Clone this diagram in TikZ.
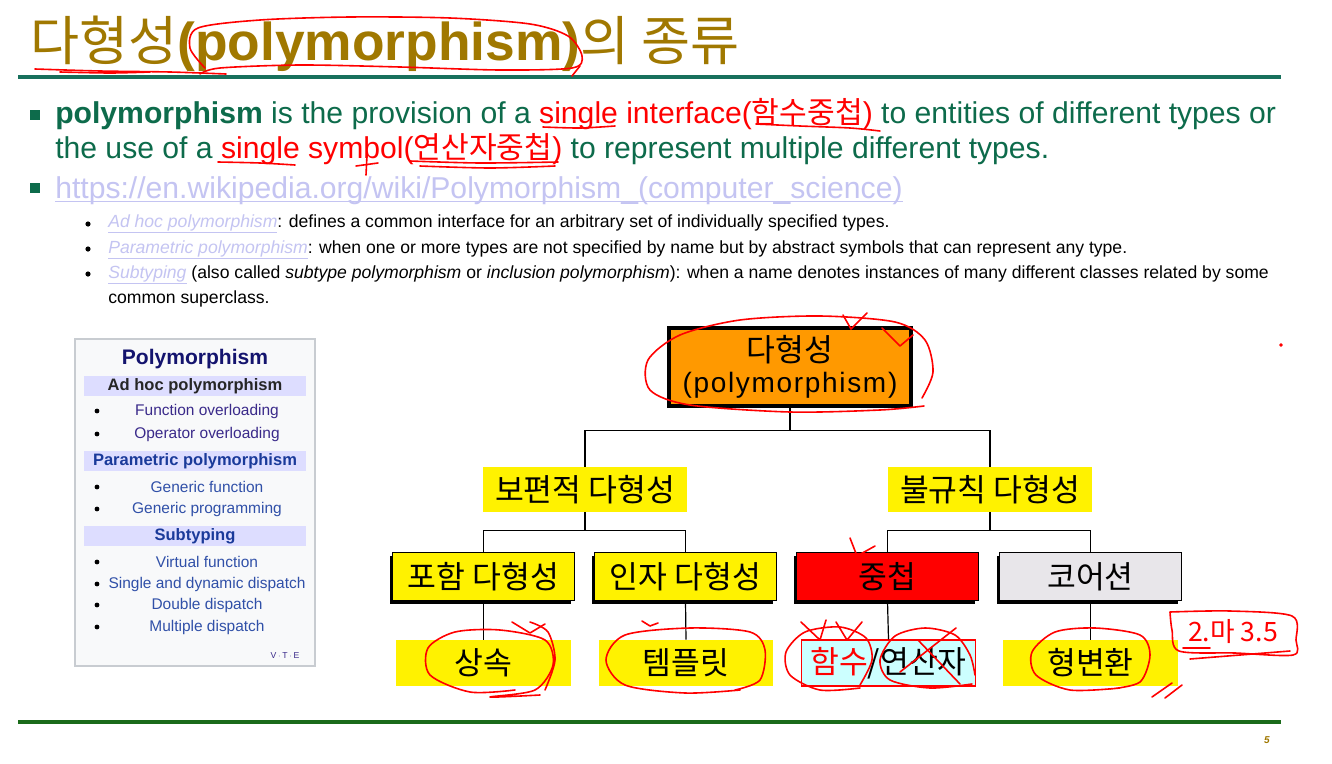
\documentclass[tikz,border=0pt]{standalone}
\usepackage{fontspec}
\setmainfont{Liberation Sans}
\newfontfamily\kr{Noto Sans CJK KR}
\usetikzlibrary{shadows}
\definecolor{titlecol}{HTML}{A07800}
\definecolor{txtgreen}{HTML}{0D6B4B}
\definecolor{linkcol}{HTML}{C4C4F2}
\definecolor{topline}{HTML}{17705C}
\definecolor{botline}{HTML}{1A6B1A}
\definecolor{boxborder}{HTML}{C8CCD1}
\definecolor{boxfill}{HTML}{F8F9FA}
\definecolor{hdrcol}{HTML}{DDDDFF}
\definecolor{navy}{HTML}{14146E}
\definecolor{itemblue}{HTML}{3050A8}
\definecolor{itempurple}{HTML}{3A2A8A}
\definecolor{hdrblue}{HTML}{1A3A9A}
\definecolor{orangebox}{HTML}{FF9900}
\definecolor{graybox}{HTML}{E8E6EA}
\definecolor{cyanbox}{HTML}{CCFFFF}
\begin{document}
\begin{tikzpicture}[x=0.75pt,y=-0.75pt,
  txt/.style={anchor=base west,inner sep=0pt},
  tree/.style={font=\kr\fontsize{23.5}{27}\selectfont,inner sep=0pt,align=center},
  rootbox/.style={tree,fill=orangebox,draw=black,line width=3pt,minimum width=182pt,minimum height=58pt},
  lone/.style={tree,fill=yellow,minimum width=153pt,minimum height=33.75pt},
  ltwo/.style={tree,draw=black,line width=0.8pt,minimum width=136pt,minimum height=36pt,
     drop shadow={shadow xshift=-2.4pt,shadow yshift=-2.4pt,opacity=1,fill=black}},
  lthree/.style={tree,fill=yellow,minimum width=131pt,minimum height=34.5pt},
  conn/.style={draw=black,line width=0.9pt},
  anno/.style={draw=red,line width=1.2pt,line cap=round,line join=round},
  itm/.style={font=\fontsize{11.6}{13}\selectfont,inner sep=0pt},
  bigtxt/.style={txt,font=\fontsize{22.6}{26}\selectfont},
  smalltxt/.style={txt,font=\fontsize{13.2}{15}\selectfont}
]
\useasboundingbox (0,0) rectangle (1332,764);
\fill[white] (0,0) rectangle (1332,764);

% ---------- title ----------
\node[txt,text=titlecol] (title) at (30,60) {\fontsize{40}{44}\selectfont{\kr 다형성}\textbf{(polymorphism)}{\kr 의 종류}};
\draw[topline,line width=3pt] (18,77) -- (1281,77);
\draw[botline,line width=3pt] (18,722) -- (1281,722);
\node[inner sep=0pt,text=titlecol,font=\fontsize{7.5}{9}\selectfont\bfseries\itshape] (pnum) at (1267,740) {5};

% ---------- bullets ----------
\fill[txtgreen] (30,110) rectangle (40,120);
\fill[txtgreen] (30,183) rectangle (40,193);
\node[bigtxt,text=txtgreen] (b1a) at (55,123)
 {\textbf{polymorphism} is the provision of a \textcolor{red}{single interface(}\textcolor{red}{\kr 함수중첩}\textcolor{red}{)} to entities of different types or};
\node[bigtxt,text=txtgreen] (b1b) at (55,158)
 {the use of a \textcolor{red}{single symbol(}\textcolor{red}{\kr 연산자중첩}\textcolor{red}{)} to represent multiple different types.};
\node[bigtxt,text=linkcol] (url) at (55,198)
 {https://en.wikipedia.org/wiki/Polymorphism\_(computer\_science)};
\draw[linkcol,line width=0.9pt] ([yshift=-2.5pt]url.base west) -- ([yshift=-2.5pt]url.base east);

% sub bullets
\foreach \yy in {224,249,274}{\fill[black] (88,\yy) circle[radius=2.6];}
\node[smalltxt] (s1) at (108,227)
 {{\color{linkcol}\underline{\textit{Ad hoc polymorphism}}}: defines a common interface for an arbitrary set of individually specified types.};
\node[smalltxt] (s2) at (108,253)
 {{\color{linkcol}\underline{\textit{Parametric polymorphism}}}: when one or more types are not specified by name but by abstract symbols that can represent any type.};
\node[smalltxt] (s3) at (108,278)
 {{\color{linkcol}\underline{\textit{Subtyping}}} (also called \textit{subtype polymorphism} or \textit{inclusion polymorphism}): when a name denotes instances of many different classes related by some};
\node[smalltxt] (s4) at (108,303) {common superclass.};

% ---------- left navbox ----------
\draw[boxborder,fill=boxfill,line width=1pt] (75,339) rectangle (315,666);
\node[inner sep=0pt,text=navy,font=\fontsize{15.8}{18}\selectfont\bfseries] (nbt) at (195,359) {Polymorphism};
\fill[hdrcol] (84,376) rectangle (306,396);
\fill[hdrcol] (84,451) rectangle (306,471);
\fill[hdrcol] (84,526) rectangle (306,546);
\node[inner sep=0pt,text=black!85,font=\fontsize{12.4}{14}\selectfont\bfseries] (h1) at (195,386) {Ad hoc polymorphism};
\node[inner sep=0pt,text=hdrblue,font=\fontsize{12.4}{14}\selectfont\bfseries] (h2) at (195,461) {Parametric polymorphism};
\node[inner sep=0pt,text=hdrblue,font=\fontsize{12.4}{14}\selectfont\bfseries] (h3) at (195,536) {Subtyping};
\foreach \yy in {411,434,487,509,562,584,605,627}{\fill[black] (97,\yy) circle[radius=2.4];}
\node[itm,text=itempurple] (i1) at (207,411) {Function overloading};
\node[itm,text=itempurple] (i2) at (207,434) {Operator overloading};
\node[itm,text=itemblue] (i3) at (207,487) {Generic function};
\node[itm,text=itemblue] (i4) at (207,509) {Generic programming};
\node[itm,text=itemblue] (i5) at (207,562) {Virtual function};
\node[itm,text=itemblue] (i6) at (207,584) {Single and dynamic dispatch};
\node[itm,text=itemblue] (i7) at (207,605) {Double dispatch};
\node[itm,text=itemblue] (i8) at (207,627) {Multiple dispatch};
\node[inner sep=0pt,text=itempurple,font=\fontsize{6.5}{8}\selectfont] (vte) at (285,656) {V\,$\cdot$\,T\,$\cdot$\,E};

% ---------- tree ----------
\node[rootbox] (root) at (790,367) {다형성\\[-4pt]{\fontspec{Liberation Sans}[LetterSpace=6]\fontsize{21}{25}\selectfont(polymorphism)}};
\node[lone] (uni) at (585,489.5) {보편적 다형성};
\node[lone] (adh) at (990,489.5) {불규칙 다형성};
\node[ltwo,fill=yellow] (inc) at (483.5,576.5) {포함 다형성};
\node[ltwo,fill=yellow] (par) at (685.5,576.5) {인자 다형성};
\node[ltwo,fill=red] (ovl) at (887.5,576.5) {중첩};
\node[ltwo,fill=graybox] (coe) at (1090.5,576.5) {코어션};
\node[lthree] (inh) at (483.5,663) {상속};
\node[lthree] (tmp) at (686,663) {템플릿};
\node[lthree,fill=cyanbox,draw=red,line width=0.9pt] (fop) at (888.5,663) {\textcolor{red}{함수}/연산자};
\node[lthree] (cast) at (1090.5,663) {형변환};

\draw[conn] (root.south) -- ++(0,23) coordinate (j0);
\draw[conn] (j0) -| (uni.north);
\draw[conn] (j0) -| (adh.north);
\draw[conn] (uni.south) -- ++(0,18) coordinate (j1);
\draw[conn] (j1) -| (inc.north);
\draw[conn] (j1) -| (par.north);
\draw[conn] (adh.south) -- ++(0,18) coordinate (j2);
\draw[conn] (j2) -| (ovl.north);
\draw[conn] (j2) -| (coe.north);
\draw[conn] (inc.south) -- (inh.north);
\draw[conn] (par.south) -- (tmp.north);
\draw[conn] (ovl.south) -- (fop.north);
\draw[conn] (coe.south) -- (cast.north);

% ---------- red annotations ----------
% title
\draw[anno] plot[smooth] coordinates {(205,68) (190,48) (198,28) (260,20) (350,17) (450,18) (530,24) (568,36) (582,56) (572,68) (500,70) (400,67) (300,65) (220,68) (200,74)};
\draw[anno] plot[smooth] coordinates {(35,69) (100,71) (170,72) (226,74)};
\draw[anno] plot[smooth] coordinates {(60,72) (110,73) (150,72)};
\draw[anno] (572,76) -- (580,66);
% sentence underlines
\draw[anno] plot[smooth] coordinates {(543,127) (580,128) (615,126)};
\draw[anno] plot[smooth] coordinates {(756,124) (800,126) (850,128) (880,131)};
\draw[anno] plot[smooth] coordinates {(218,162) (260,163) (295,165)};
\draw[anno] plot[smooth] coordinates {(410,161) (480,163) (558,162)};
\draw[anno] plot[smooth] coordinates {(420,166) (490,168) (555,166)};
\draw[anno] (367,155) -- (366,175);
\draw[anno] (356,166) -- (378,163);
% root
\draw[anno] plot[smooth] coordinates {(922,398) (933,372) (925,340) (895,322) (820,316) (740,320) (680,335) (648,360) (650,390) (690,405) (790,412) (880,410) (924,406)};
\draw[anno] (843,315) -- (851,329) -- (867,313);
\draw[anno] (882,328) -- (900,346) -- (913,335);
\draw[anno] (1281,345) circle[radius=1];
% near ovl
\draw[anno] (850,538) -- (857,556) -- (875,546);
% L3
\draw[anno] plot[smooth] coordinates {(515,690) (470,692) (430,675) (428,648) (455,632) (500,630) (545,640) (553,665) (535,690) (490,697) (540,695)};
\draw[anno] plot[smooth] coordinates {(545,690) (555,660) (548,632) (530,622)};
\draw[anno] (512,622) -- (530,633) -- (545,624);
\draw[anno] plot[smooth] coordinates {(740,690) (685,693) (625,685) (606,660) (625,635) (690,628) (750,632) (765,650) (760,680) (735,690)};
\draw[anno] (642,621) -- (650,626) -- (658,623);
\draw[anno] plot[smooth] coordinates {(860,688) (820,690) (790,675) (786,652) (805,632) (840,627) (866,638) (872,660) (860,685)};
\draw[anno] (801,622) -- (820,640) -- (826,620);
\draw[anno] (836,622) -- (847,640) -- (862,622);
\draw[anno] plot[smooth] coordinates {(972,684) (930,688) (890,680) (880,660) (895,636) (925,628) (955,635) (970,655) (975,675)};
\draw[anno] (900,672) -- (956,628);
\draw[anno] (918,640) -- (960,684);
\draw[anno] plot[smooth] coordinates {(1120,688) (1070,690) (1036,675) (1032,652) (1055,632) (1095,628) (1140,635) (1150,655) (1140,682) (1110,689)};
\draw[anno] (1152,697) -- (1172,683);
\draw[anno] (1165,698) -- (1182,685);
% side note
\draw[anno] plot[smooth] coordinates {(1170,612) (1230,611) (1292,616) (1296,640) (1293,655) (1235,653) (1179,651) (1172,630) (1170,612)};
\node[inner sep=0pt,text=red,font=\kr\fontsize{20}{22}\selectfont] (note) at (1233,632) {2.마 3.5};
\draw[anno] (1183,648) -- (1210,648);
\draw[anno] (1190,659) -- (1290,651);
\end{tikzpicture}
\end{document}
